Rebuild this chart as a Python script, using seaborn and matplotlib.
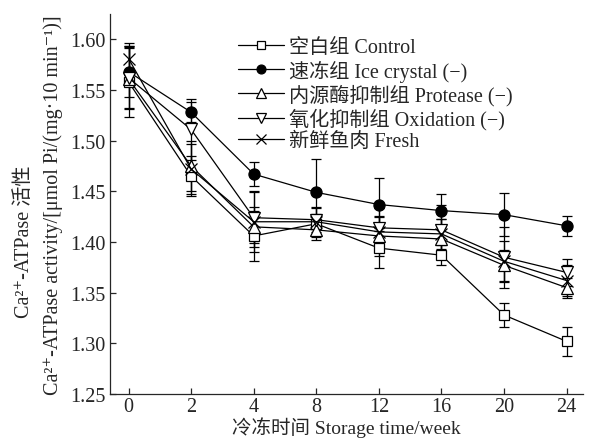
import numpy as np
import pandas as pd
import matplotlib
matplotlib.use("Agg")
import matplotlib.pyplot as plt
import seaborn as sns

# Veriler
weeks = ["0", "2", "4", "8", "12", "16", "20", "24"]
control = [1.558, 1.465, 1.406, 1.418, 1.394, 1.387, 1.328, 1.302]
control_err = [0.035, 0.020, 0.025, 0.010, 0.020, 0.010, 0.012, 0.014]
ice = [1.568, 1.528, 1.467, 1.449, 1.437, 1.431, 1.427, 1.416]
ice_err = [0.025, 0.010, 0.012, 0.033, 0.026, 0.016, 0.021, 0.010]
protease = [1.561, 1.475, 1.415, 1.412, 1.406, 1.403, 1.377, 1.355]
protease_err = [0.030, 0.025, 0.020, 0.010, 0.020, 0.020, 0.015, 0.010]
oxidation = [1.562, 1.511, 1.424, 1.422, 1.414, 1.412, 1.385, 1.370]
oxidation_err = [0.030, 0.030, 0.025, 0.012, 0.020, 0.025, 0.030, 0.013]
fresh = [1.581, 1.472, 1.420, 1.420, 1.410, 1.408, 1.381, 1.362]
fresh_err = [0.015, 0.025, 0.030, 0.015, 0.015, 0.015, 0.020, 0.015]

labels = ["空白组 Control", "速冻组 Ice crystal (\u2212)", "内源酶抑制组 Protease (\u2212)",
          "氧化抑制组 Oxidation (\u2212)", "新鲜鱼肉 Fresh"]

sns.set_style("ticks")
plt.rcParams["font.family"] = ["Liberation Serif", "DejaVu Serif", "Noto Sans CJK SC"]

series = [
    (control, control_err, "s", "white", 7),
    (ice, ice_err, "o", "black", 8),
    (protease, protease_err, "^", "white", 8.5),
    (oxidation, oxidation_err, "v", "white", 8.5),
    (fresh, fresh_err, "x", "black", 8.5),
]

fig = plt.figure(figsize=(5.9, 4.39), dpi=100)
ax = fig.add_axes([0.186, 0.100, 0.802, 0.866])

pos = np.arange(len(weeks))
for (vals, err, m, fc, ms), lab in zip(series, labels):
    ax.errorbar(pos, vals, yerr=err, fmt="none", ecolor="black", elinewidth=0.9,
                capsize=3.6, capthick=0.9, zorder=2)
    sns.lineplot(x=pos, y=vals, ax=ax, color="black", marker=m, markersize=ms,
                 markerfacecolor=fc, markeredgecolor="black", markeredgewidth=0.9,
                 linewidth=0.9, label=lab, zorder=3)

ax.set_xlim(-0.3, 7.26)
ax.set_ylim(1.25, 1.625)
ax.set_xticks(pos)
ax.set_xticklabels(weeks)
ax.set_yticks([1.25, 1.30, 1.35, 1.40, 1.45, 1.50, 1.55, 1.60])
ax.yaxis.set_major_formatter(matplotlib.ticker.FormatStrFormatter("%.2f"))
ax.tick_params(direction="in", length=4, width=0.9, labelsize=14.5, pad=3)
ax.tick_params(axis="x", pad=2)
for s in ["left", "bottom"]:
    ax.spines[s].set_linewidth(0.9)
sns.despine(ax=ax)

ax.set_xlabel("冷冻时间 Storage time/week", fontsize=14, labelpad=0)
ax.set_ylabel("Ca²⁺-ATPase activity/[μmol Pi/(mg·10 min⁻¹)]", fontsize=14.5, labelpad=5)
fig.text(25 / 590, 1 - 242 / 439, "Ca²⁺-ATPase 活性", rotation=90,
         ha="center", va="center", fontsize=14.5)

ax.legend(loc="upper left", bbox_to_anchor=(0.253, 0.958), frameon=False, fontsize=14.5,
          handlelength=2.3, handletextpad=0.25, labelspacing=0.12, borderaxespad=0,
          markerscale=0.8)

fig.savefig("out.png", dpi=100)
